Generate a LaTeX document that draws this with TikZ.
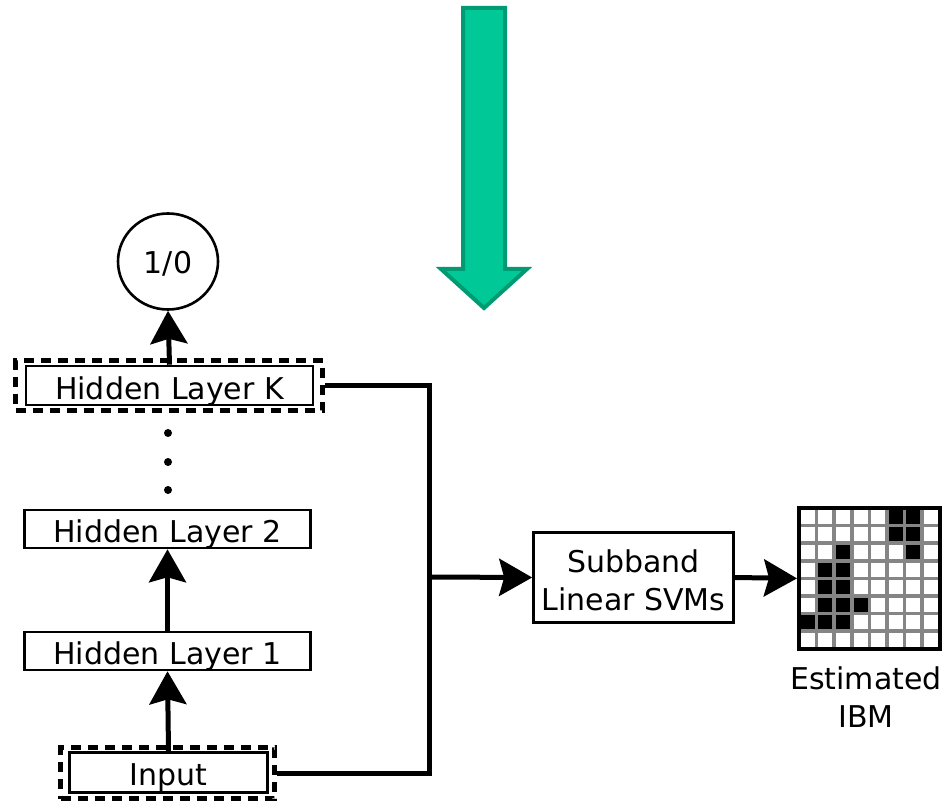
\documentclass[tikz,border=0pt]{standalone}
\usepackage{fontspec}
\setmainfont{DejaVu Sans}
\usetikzlibrary{arrows.meta,shapes.geometric}
\definecolor{arrfill}{HTML}{00C896}
\definecolor{arrline}{HTML}{009B72}
\definecolor{gridgray}{HTML}{858585}
\begin{document}
\begin{tikzpicture}[x=1pt,y=-1pt,
  txt/.style={font=\fontsize{30}{38}\selectfont},
  layerbox/.style={txt, draw, line width=2.6pt, inner sep=0pt, minimum width=286pt, minimum height=38pt, text height=27pt, text depth=0pt},
  dashbox/.style={draw, line width=5pt, dash pattern=on 10pt off 7pt, inner sep=0pt},
  conn/.style={line width=5pt},
  tip/.style={-{Stealth[length=33pt,width=37pt,inset=5pt]}}
]
\useasboundingbox (0,0) rectangle (942,802);

% green arrow
\draw[line width=4pt, draw=arrline, fill=arrfill, line join=miter]
  (463,8) -- (505,8) -- (505,269) -- (527,269) -- (484,308) -- (441,269) -- (463,269) -- cycle;

% left stack
\node[txt, draw, ellipse, line width=2.6pt, minimum width=100pt, minimum height=96pt, inner sep=0pt, text height=25pt, text depth=0pt] (out) at (168,261.5) {1/0};
\node[dashbox, minimum width=307pt, minimum height=50pt] (dashK) at (169,385.5) {};
\node[layerbox, minimum width=287pt, minimum height=39pt] (hK) at (169.5,385.5) {Hidden Layer K};
\node[layerbox] (h2) at (167.5,529) {Hidden Layer 2};
\node[layerbox] (h1) at (167.5,651) {Hidden Layer 1};
\node[dashbox, minimum width=214pt, minimum height=51pt] (dashIn) at (167.5,773) {};
\node[layerbox, minimum width=198pt, minimum height=40pt, text height=25pt] (inp) at (168.5,772.5) {Input};

\foreach \y [count=\i] in {433,462,490} \fill (168,\y) circle (4pt) coordinate (dot\i);

% right part
\node[txt, draw, line width=2.6pt, inner sep=0pt, minimum width=200pt, minimum height=90pt] (svm) at (633.5,577.5) {};
\node[txt, align=center, inner sep=0pt] (svmtxt) at (633.5,580.5) {Subband\\Linear SVMs};

% IBM grid
\foreach \c/\r in {5/0,6/0,5/1,6/1,2/2,6/2,1/3,2/3,1/4,2/4,1/5,2/5,3/5,0/6,1/6,2/6}
  \fill (799+\c*17.6,508+\r*17.6) rectangle ++(17.6,17.6);
\foreach \k in {1,...,7} {
  \draw[gridgray, line width=3.5pt] (799+\k*17.6,508) -- ++(0,140.8);
  \draw[gridgray, line width=3.5pt] (799,508+\k*17.6) -- ++(140.8,0);
}
\node[draw, line width=4pt, inner sep=0pt, minimum width=140.8pt, minimum height=140.8pt] (ibm) at (869.4,578.4) {};
\node[txt, align=center] (lbl) at (866,697) {Estimated\\IBM};

% connectors
\coordinate (jn) at (429,577);
\draw[conn, tip] (hK.north) -- (out.south);
\draw[conn, tip] (h1.north) -- (h2.south);
\draw[conn, tip] (inp.north) -- (h1.south);
\draw[conn, line join=miter] (dashK.east) -| (jn) |- (dashIn.east);
\draw[conn, tip] (jn) -- (svm.west);
\draw[conn, tip] (svm.east) -- (ibm.west);
\end{tikzpicture}
\end{document}
